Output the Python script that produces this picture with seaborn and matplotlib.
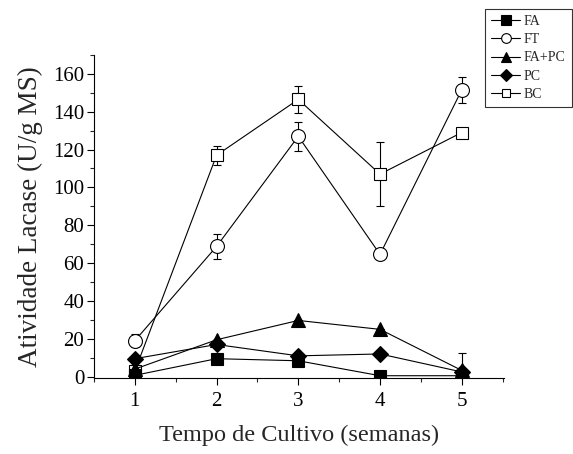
import matplotlib
matplotlib.use("Agg")
import matplotlib.pyplot as plt
import seaborn as sns
import pandas as pd
import numpy as np
from matplotlib.ticker import MultipleLocator
from matplotlib.lines import Line2D

sns.set_style("ticks")
plt.rcParams['font.family'] = ['Liberation Serif', 'DejaVu Serif']

weeks = [1, 2, 3, 4, 5]
fa = [0.7, 9.5, 8.4, 0.5, 0.5]
fa_err = [0, 0, 0, 0, 0]
ft = [19, 68.8, 127, 64.6, 151.5]
ft_err = [3.5, 6.5, 7.5, 2, 7]
fapc = [4, 19.5, 29.7, 25, 3.3]
fapc_err = [0, 0, 0, 0, 9]
pc = [9.5, 17, 11, 12, 2.5]
pc_err = [0, 0, 0, 0, 0]
bc = [3, 117, 146.5, 107, 129]
bc_err = [3, 5, 7, 17, 0]

series = [
    ("BC", bc, bc_err, "s", "white"),
    ("FT", ft, ft_err, "o", "white"),
    ("FA", fa, fa_err, "s", "black"),
    ("FA+PC", fapc, fapc_err, "^", "black"),
    ("PC", pc, pc_err, "D", "black"),
]
sizes = {"s": 9, "o": 10, "^": 10, "D": 8}

fig = plt.figure(figsize=(5.73, 4.54), dpi=100)
ax = fig.add_axes([0.164, 0.167, 0.716, 0.712])

handles = {}
for name, vals, errs, mk, fc in series:
    df = pd.DataFrame({"week": weeks, "value": vals})
    ax.errorbar(weeks, vals, yerr=errs, fmt="none", ecolor="black",
                elinewidth=0.8, capsize=3, capthick=0.8, zorder=2)
    sns.lineplot(data=df, x="week", y="value", ax=ax, color="black",
                 linewidth=0.8, marker=mk, markersize=sizes[mk],
                 markerfacecolor=fc, markeredgecolor="black",
                 markeredgewidth=0.8, zorder=3)
    handles[name] = ax.lines[-1]

order = ["FA", "FT", "FA+PC", "PC", "BC"]
legsizes = {"FA": 6.5, "FT": 7, "FA+PC": 7.5, "PC": 6.5, "BC": 5.5}
leg_handles = []
for name in order:
    h = handles[name]
    leg_handles.append(Line2D([], [], color="black", linewidth=0.8,
                              marker=h.get_marker(),
                              markersize=legsizes[name],
                              markerfacecolor=h.get_markerfacecolor(),
                              markeredgecolor="black", markeredgewidth=0.8))
leg = fig.legend(leg_handles, order, loc="upper right",
                 bbox_to_anchor=(0.998, 0.981), fontsize=10,
                 frameon=True, fancybox=False, edgecolor="black",
                 handlelength=2.1, handletextpad=0.25, labelspacing=0.38,
                 borderpad=0.45, borderaxespad=0)
leg.get_frame().set_linewidth(0.8)

ax.set_xlim(0.5, 5.52)
ax.set_ylim(-0.8, 170)
ax.xaxis.set_major_locator(MultipleLocator(1))
ax.xaxis.set_minor_locator(MultipleLocator(0.5))
ax.yaxis.set_major_locator(MultipleLocator(20))
ax.yaxis.set_minor_locator(MultipleLocator(10))
ax.set_yticks(np.arange(0, 161, 20))
ax.tick_params(which="major", direction="out", length=5, width=0.8,
               labelsize=15, colors="black")
ax.tick_params(which="minor", direction="out", length=3, width=0.8)
ax.tick_params(axis="x", pad=5)
ax.tick_params(axis="y", pad=2)
sns.despine(ax=ax)
for s in ("left", "bottom"):
    ax.spines[s].set_linewidth(0.8)
    ax.spines[s].set_color("black")

ax.set_xlabel("Tempo de Cultivo (semanas)", fontsize=17.5, labelpad=10)
ax.set_ylabel("Atividade Lacase (U/g MS)", fontsize=19.5, labelpad=7)

fig.savefig("out.png", dpi=100)
